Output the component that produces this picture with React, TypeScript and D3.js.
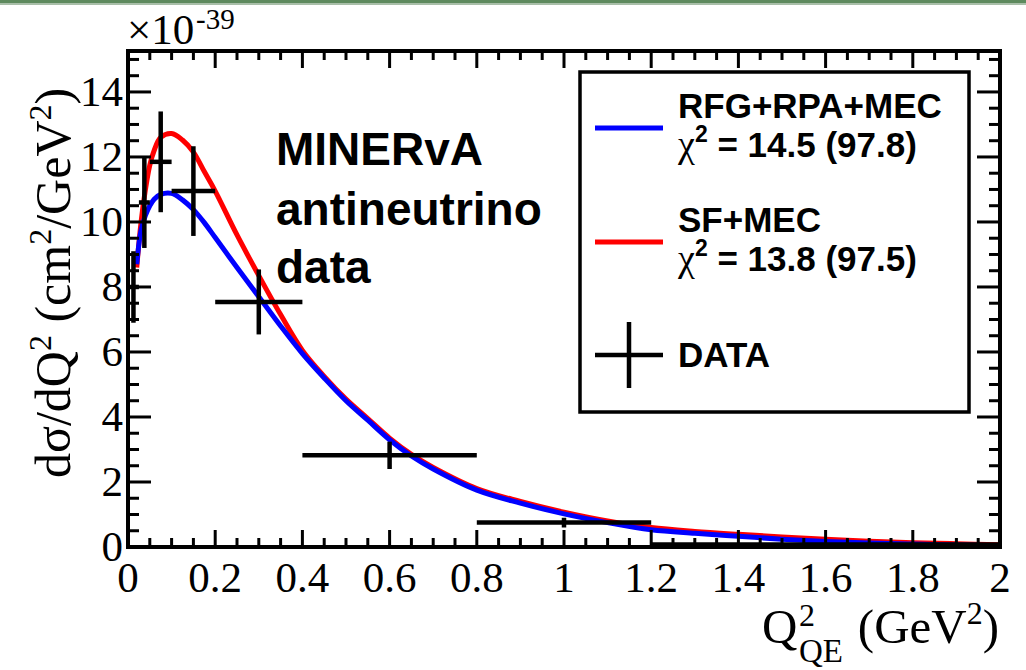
import React from 'react';
import * as d3 from 'd3';

// ---- data ----
const binLow = [0, 0.025, 0.05, 0.1, 0.2, 0.4, 0.8, 1.2];
const binHigh = [0.025, 0.05, 0.1, 0.2, 0.4, 0.8, 1.2, 2.0];
const dataValues = [8.0, 10.6, 11.85, 10.95, 7.54, 2.82, 0.75, 0.08];
const dataErrors = [1.1, 1.4, 1.55, 1.38, 1.0, 0.42, 0.15, 0.03];

const curveQ2 = [0.02, 0.03, 0.04, 0.05, 0.06, 0.075, 0.1, 0.125, 0.15, 0.175, 0.2, 0.25, 0.3, 0.35, 0.4, 0.45, 0.5, 0.55, 0.6, 0.65, 0.7, 0.8, 0.9, 1.0, 1.1, 1.2, 1.3, 1.4, 1.5, 1.6, 1.7, 1.8, 1.9, 2.0];
const rfgValues = [8.7, 9.75, 10.2, 10.5, 10.7, 10.85, 10.88, 10.68, 10.38, 9.98, 9.52, 8.6, 7.7, 6.8, 5.95, 5.2, 4.5, 3.9, 3.3, 2.8, 2.4, 1.75, 1.35, 1.02, 0.75, 0.53, 0.42, 0.33, 0.24, 0.17, 0.12, 0.09, 0.06, 0.04];
const sfValues = [8.6, 10.0, 11.0, 11.75, 12.2, 12.6, 12.72, 12.52, 12.15, 11.55, 10.95, 9.6, 8.35, 7.15, 6.05, 5.25, 4.55, 3.95, 3.35, 2.85, 2.45, 1.8, 1.4, 1.07, 0.8, 0.6, 0.48, 0.39, 0.31, 0.24, 0.18, 0.13, 0.1, 0.07];

const xTickValues = [0, 0.2, 0.4, 0.6, 0.8, 1, 1.2, 1.4, 1.6, 1.8, 2];
const xTickLabels = ['0', '0.2', '0.4', '0.6', '0.8', '1', '1.2', '1.4', '1.6', '1.8', '2'];
const yTickValues = [0, 2, 4, 6, 8, 10, 12, 14];
const yTickLabels = ['0', '2', '4', '6', '8', '10', '12', '14'];

const legendModels = ['RFG+RPA+MEC', 'SF+MEC'];
const legendChi2 = ['14.5 (97.8)', '13.8 (97.5)'];
const legendColors = ['#0000ff', '#ff0000'];

const SERIF = '"Liberation Serif", "Times New Roman", serif';
const SANS = '"Liberation Sans", Arial, sans-serif';

export default function App() {
  const x = d3.scaleLinear().domain([0, 2]).range([128, 1000]);
  const y = d3.scaleLinear().domain([0, 15.26]).range([547, 51]);

  const line = (vals: number[]) =>
    d3.line<number>()
      .x((_, i) => x(curveQ2[i]))
      .y((v) => y(v))
      .curve(d3.curveCatmullRom.alpha(0.5))(vals) as string;

  const xMinor = d3.range(0, 2.0001, 0.05);
  const yMinor = d3.range(0, 15.01, 0.5);
  const isMajorX = (v: number) => Math.abs(v * 5 - Math.round(v * 5)) < 1e-6;
  const isMajorY = (v: number) => Math.abs(v / 2 - Math.round(v / 2)) < 1e-6;

  const [x0, x1] = x.range();
  const [yb, yt] = y.range();

  return (
    <svg width={1026} height={670} style={{ position: 'absolute', left: 0, top: 0, background: '#fff' }}>
      <rect x={0} y={0} width={1026} height={670} fill="#fff" />
      <rect x={0} y={0} width={1026} height={3} fill="#5e8a5e" />
      <rect x={0} y={3} width={1026} height={2} fill="#a9bfa9" />

      {/* curves */}
      <path d={line(sfValues)} fill="none" stroke="#ff0000" strokeWidth={5} />
      <path d={line(rfgValues)} fill="none" stroke="#0000ff" strokeWidth={5} />

      {/* data crosses */}
      {dataValues.map((v, i) => {
        const cx = x((binLow[i] + binHigh[i]) / 2);
        return (
          <g key={i} stroke="#000" strokeWidth={4.5}>
            <line x1={x(binLow[i])} x2={x(binHigh[i])} y1={y(v)} y2={y(v)} />
            <line x1={cx} x2={cx} y1={y(v - dataErrors[i])} y2={y(v + dataErrors[i])} />
          </g>
        );
      })}

      {/* ticks */}
      <g stroke="#000" strokeWidth={3}>
        {xMinor.map((v, i) => {
          const len = isMajorX(v) ? 17 : 9;
          return (
            <g key={'xt' + i}>
              <line x1={x(v)} x2={x(v)} y1={yb} y2={yb - len} />
              <line x1={x(v)} x2={x(v)} y1={yt} y2={yt + len} />
            </g>
          );
        })}
        {yMinor.map((v, i) => {
          const len = isMajorY(v) ? 23 : 11;
          return (
            <g key={'yt' + i}>
              <line x1={x0} x2={x0 + len} y1={y(v)} y2={y(v)} />
              <line x1={x1} x2={x1 - len} y1={y(v)} y2={y(v)} />
            </g>
          );
        })}
      </g>

      {/* frame */}
      <rect x={x0} y={yt} width={x1 - x0} height={yb - yt} fill="none" stroke="#000" strokeWidth={4} />

      {/* tick labels */}
      <g fontFamily={SERIF} fontSize={43} fill="#000">
        {xTickValues.map((v, i) => (
          <text key={'xl' + i} x={x(v)} y={592} textAnchor="middle">{xTickLabels[i]}</text>
        ))}
        {yTickValues.map((v, i) => (
          <text key={'yl' + i} x={123} y={y(v) + 14} textAnchor="end">{yTickLabels[i]}</text>
        ))}
      </g>

      {/* exponent */}
      <text x={127} y={44} fontFamily={SERIF} fontSize={43}>×10</text>
      <text x={196} y={29} fontFamily={SERIF} fontSize={29}>-39</text>

      {/* axis titles */}
      <text x={999} y={643} fontFamily={SERIF} fontSize={49} textAnchor="end">(GeV<tspan dy={-19} fontSize={32}>2</tspan><tspan dy={19}>)</tspan></text>
      <text x={762} y={643} fontFamily={SERIF} fontSize={49}>Q</text>
      <text x={799} y={626} fontFamily={SERIF} fontSize={32}>2</text>
      <text x={799} y={662} fontFamily={SERIF} fontSize={33}>QE</text>

      <text transform="translate(70,478) rotate(-90)" fontFamily={SERIF} fontSize={50}>
        dσ/dQ<tspan dy={-19} fontSize={32}>2</tspan><tspan dy={19}> (cm</tspan><tspan dy={-19} fontSize={32}>2</tspan><tspan dy={19}>/GeV</tspan><tspan dy={-19} fontSize={32}>2</tspan><tspan dy={19}>)</tspan>
      </text>

      {/* annotation */}
      <g fontFamily={SANS} fontWeight="bold" fontSize={46} fill="#000">
        <text x={276} y={165}>MINERvA</text>
        <text x={276} y={225}>antineutrino</text>
        <text x={276} y={283}>data</text>
      </g>

      {/* legend */}
      <rect x={580} y={72} width={389} height={340} fill="#fff" stroke="#000" strokeWidth={3.5} />
      {legendModels.map((m, i) => {
        const base = 118 + i * 114;
        return (
          <g key={'lg' + i}>
            <line x1={595} x2={663} y1={base + 10} y2={base + 10} stroke={legendColors[i]} strokeWidth={5} />
            <text x={678} y={base} fontFamily={SANS} fontWeight="bold" fontSize={35}>{m}</text>
            <text x={678} y={base + 39} fontFamily={SANS} fontWeight="bold" fontSize={35}>
              <tspan fontFamily={SERIF} fontWeight="normal" fontSize={38}>χ</tspan>
              <tspan dy={-15} fontSize={23}>2</tspan>
              <tspan dy={15}>{' = ' + legendChi2[i]}</tspan>
            </text>
          </g>
        );
      })}
      <g stroke="#000" strokeWidth={4.5}>
        <line x1={595} x2={663} y1={355} y2={355} />
        <line x1={629} x2={629} y1={322} y2={388} />
      </g>
      <text x={678} y={367} fontFamily={SANS} fontWeight="bold" fontSize={35}>DATA</text>
    </svg>
  );
}
